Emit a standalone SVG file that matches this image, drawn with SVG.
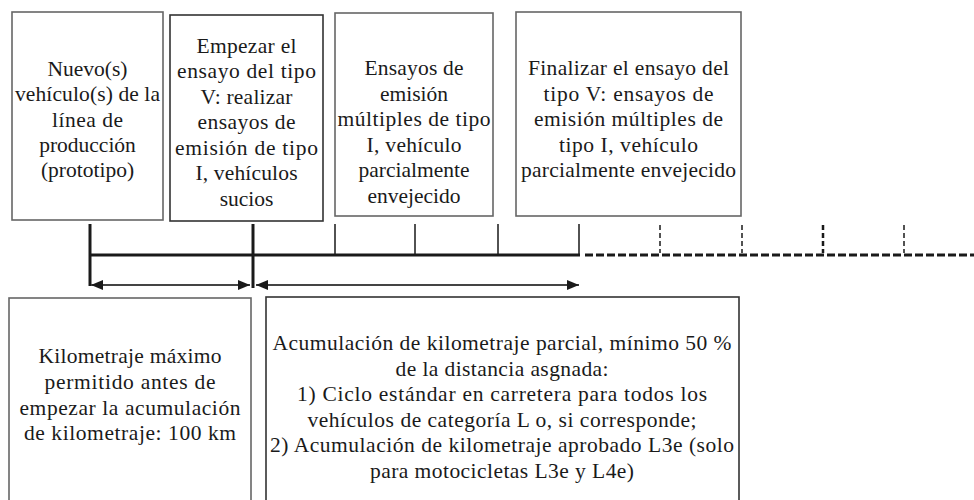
<svg xmlns="http://www.w3.org/2000/svg" width="974" height="500" viewBox="0 0 974 500">
<defs>
<style>
.box{fill:#fff;stroke:#666;stroke-width:1.6}
.t{font-family:"Liberation Serif","Times New Roman",serif;font-size:21.5px;fill:#1a1a1a;text-anchor:middle}
.thick{stroke:#1a1a1a;stroke-width:3;fill:none}
.thin{stroke:#1a1a1a;stroke-width:1.5;fill:none}
.dash{stroke:#1a1a1a;stroke-width:3;fill:none;stroke-dasharray:8 3}
.dtick{stroke:#1a1a1a;stroke-width:1.5;fill:none;stroke-dasharray:5 3}
.arr{stroke:#444;stroke-width:2;fill:none}
</style>
<marker id="ah" viewBox="0 0 12 10" refX="12" refY="5" markerWidth="12" markerHeight="10" markerUnits="userSpaceOnUse" orient="auto-start-reverse">
<path d="M0,0 L12,5 L0,10 Z" fill="#1a1a1a"/>
</marker>
</defs>

<g id="n1">
<rect class="box" x="12" y="12" width="151" height="208"/>
<text class="t" x="87.5" y="76">Nuevo(s)</text>
<text class="t" x="87.5" y="101" textLength="145">vehículo(s) de la</text>
<text class="t" x="87.5" y="127" textLength="71">línea de</text>
<text class="t" x="87.5" y="152">producción</text>
<text class="t" x="87.5" y="177">(prototipo)</text>
</g>

<g id="n2">
<rect class="box" x="170" y="15" width="153" height="206" style="stroke:#333"/>
<text class="t" x="246.5" y="53" textLength="100">Empezar el</text>
<text class="t" x="246.5" y="78" textLength="139">ensayo del tipo</text>
<text class="t" x="246.5" y="104" textLength="92">V: realizar</text>
<text class="t" x="246.5" y="129" textLength="98">ensayos de</text>
<text class="t" x="246.5" y="155" textLength="143">emisión de tipo</text>
<text class="t" x="246.5" y="180" textLength="102">I, vehículos</text>
<text class="t" x="246.5" y="206">sucios</text>
</g>

<g id="n3">
<rect class="box" x="335" y="13" width="158" height="203"/>
<text class="t" x="414" y="75" textLength="99">Ensayos de</text>
<text class="t" x="414" y="101">emisión</text>
<text class="t" x="414" y="126" textLength="153">múltiples de tipo</text>
<text class="t" x="414" y="152" textLength="95">I, vehículo</text>
<text class="t" x="414" y="177">parcialmente</text>
<text class="t" x="414" y="203">envejecido</text>
</g>

<g id="n4">
<rect class="box" x="516" y="12" width="225" height="204"/>
<text class="t" x="628.5" y="75" textLength="201">Finalizar el ensayo del</text>
<text class="t" x="628.5" y="101" textLength="170">tipo V: ensayos de</text>
<text class="t" x="628.5" y="126" textLength="189">emisión múltiples de</text>
<text class="t" x="628.5" y="152" textLength="139">tipo I, vehículo</text>
<text class="t" x="628.5" y="177" textLength="215">parcialmente envejecido</text>
</g>

<g id="n5">
<rect class="box" x="9" y="298" width="242" height="210"/>
<text class="t" x="130" y="363" textLength="183">Kilometraje máximo</text>
<text class="t" x="130" y="389" textLength="171">permitido antes de</text>
<text class="t" x="130" y="415" textLength="221">empezar la acumulación</text>
<text class="t" x="130" y="440" textLength="212">de kilometraje: 100 km</text>
</g>

<g id="n6">
<rect class="box" x="266" y="297" width="473" height="211" style="stroke:#333"/>
<text class="t" x="502" y="350" textLength="459">Acumulación de kilometraje parcial, mínimo 50 %</text>
<text class="t" x="502" y="376" textLength="213">de la distancia asgnada:</text>
<text class="t" x="502" y="401" textLength="410">1) Ciclo estándar en carretera para todos los</text>
<text class="t" x="502" y="427" textLength="389">vehículos de categoría L o, si corresponde;</text>
<text class="t" x="502" y="452" textLength="464">2) Acumulación de kilometraje aprobado L3e (solo</text>
<text class="t" x="502" y="478" textLength="264">para motocicletas L3e y L4e)</text>
</g>

<g id="connectors">
<path class="thick" d="M90,224 V286"/>
<path class="thick" d="M253,224 V288"/>
<path class="thick" d="M90,255 H580"/>
<path class="thin" d="M335,224 V255 M415,224 V255 M498,224 V255 M579,224 V255"/>
<path class="dash" d="M585,255 H974"/>
<path class="dtick" d="M660,225 V253 M742,225 V253 M904,225 V253"/>
<path class="dtick" d="M823,225 V253" style="stroke-width:2.5"/>
<path class="arr" d="M91,285 H250" marker-start="url(#ah)" marker-end="url(#ah)"/>
<path class="arr" d="M256,285 H579" marker-start="url(#ah)" marker-end="url(#ah)"/>
</g>
</svg>
